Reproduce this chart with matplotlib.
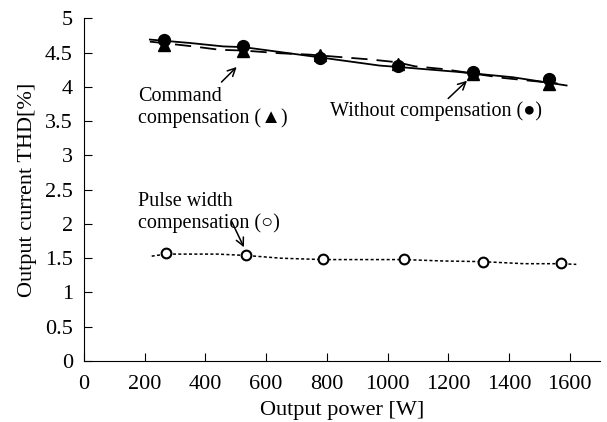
import numpy as np
import matplotlib
matplotlib.use('Agg')
from matplotlib import pyplot as plt

plt.rcParams['font.family'] = ['Liberation Serif', 'DejaVu Sans']
plt.rcParams['xtick.direction'] = 'in'
plt.rcParams['ytick.direction'] = 'in'

# measured points
power = [265, 525, 777, 1036, 1282, 1532]
thd_without = [4.68, 4.60, 4.42, 4.30, 4.22, 4.12]
thd_command = [4.61, 4.53, 4.47, 4.34, 4.19, 4.04]
power_pulse = [270, 534, 786, 1055, 1313, 1571]
thd_pulse = [1.57, 1.55, 1.49, 1.49, 1.45, 1.43]

# trend lines as drawn in the figure
line_without_x = [217, 349, 459, 525, 777, 975, 1036, 1227, 1413, 1590]
line_without_y = [4.69, 4.64, 4.59, 4.58, 4.43, 4.31, 4.29, 4.22, 4.14, 4.02]
line_command_x = [217, 360, 448, 525, 646, 744, 942, 1030, 1090, 1183, 1381, 1469, 1560]
line_command_y = [4.66, 4.59, 4.54, 4.53, 4.49, 4.47, 4.40, 4.36, 4.30, 4.26, 4.13, 4.09, 4.05]
line_pulse_x = [223, 270, 440, 534, 650, 786, 1055, 1180, 1313, 1450, 1571, 1622]
line_pulse_y = [1.53, 1.56, 1.56, 1.54, 1.50, 1.48, 1.48, 1.46, 1.45, 1.42, 1.42, 1.41]

fig = plt.figure(figsize=(6.07, 4.22), dpi=100)
ax = fig.add_axes([0.1384, 0.1445, 0.8500, 0.8121])

ax.plot(line_without_x, line_without_y, color='black', linewidth=1.3)
ax.plot(line_command_x, line_command_y, color='black', linewidth=1.3, dashes=(9, 5))
ax.plot(line_pulse_x, line_pulse_y, color='black', linewidth=1.1, dashes=(2, 1.5))

ax.plot(power, thd_without, 'o', color='black', markersize=8.5, linestyle='none')
ax.plot(power, thd_command, '^', color='black', markersize=8.5, linestyle='none')
ax.plot(power_pulse, thd_pulse, 'o', markerfacecolor='white', markeredgecolor='black',
        markeredgewidth=1.5, markersize=7, linestyle='none')

ax.set_xlim(0, 1700)
ax.set_ylim(0, 5)
ax.set_xticks(range(0, 1700, 200))
ax.set_yticks(np.arange(0, 5.01, 0.5))
ax.set_yticklabels(['0', '0.5', '1', '1.5', '2', '2.5', '3', '3.5', '4', '4.5', '5'])
ax.spines['top'].set_visible(False)
ax.spines['right'].set_visible(False)
ax.tick_params(labelsize=16, length=5.5, width=0.8)
ax.tick_params(axis='x', pad=10)
ax.tick_params(axis='y', pad=8)
ax.set_xlabel('Output power [W]', fontsize=16, labelpad=5)
ax.set_ylabel('Output current THD[%]', fontsize=16, labelpad=6)

arrow = dict(arrowstyle='->', color='black', linewidth=1.1, mutation_scale=14,
             shrinkA=0, shrinkB=0)
ax.text(178, 4.0, 'Command\ncompensation (▲)', fontsize=14.5, va='top', ha='left', linespacing=1.15)
ax.annotate('', xy=(503, 4.29), xytext=(453, 4.07), arrowprops=arrow)
ax.text(810, 3.79, 'Without compensation (●)', fontsize=14.5, va='top', ha='left')
ax.annotate('', xy=(1262, 4.09), xytext=(1200, 3.83), arrowprops=arrow)
ax.text(178, 2.47, 'Pulse width\ncompensation (○)', fontsize=14.5, va='top', ha='left', linespacing=1.15)
ax.annotate('', xy=(527, 1.66), xytext=(486, 2.04), arrowprops=arrow)

fig.savefig('out.png', dpi=100)
